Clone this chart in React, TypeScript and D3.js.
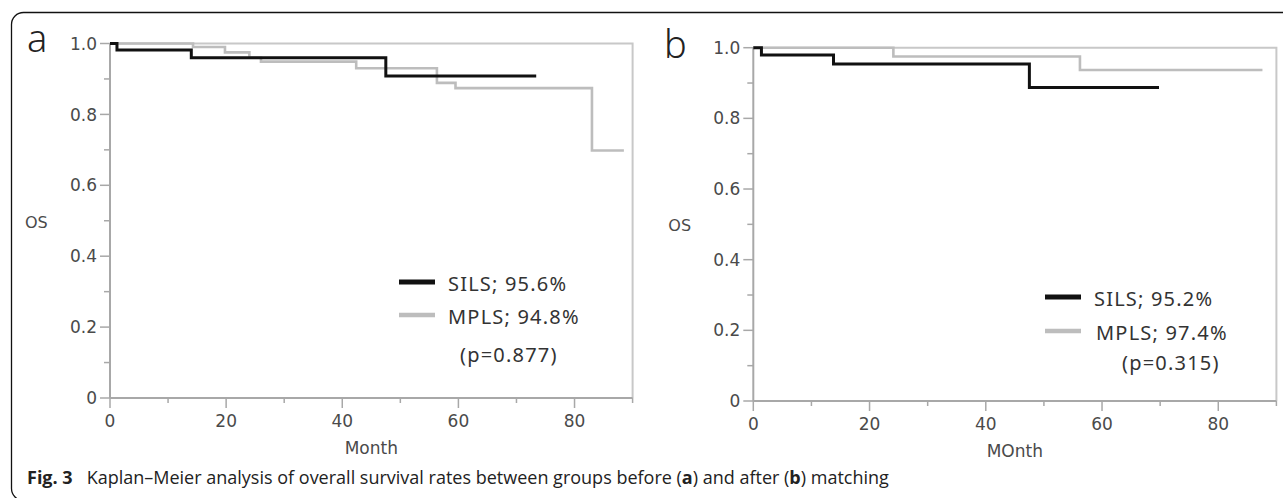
import React from 'react';
import * as d3 from 'd3';

// panel a (before matching)
const silsTimesA = [0, 1.2, 14, 47.5, 73.4];
const silsSurvA = [1, 0.982, 0.96, 0.908, 0.908];
const mplsTimesA = [0, 14.3, 19.8, 24, 26, 42.4, 56.3, 59.5, 83, 88.5];
const mplsSurvA = [1, 0.99, 0.975, 0.96, 0.949, 0.93, 0.889, 0.874, 0.698, 0.698];

// panel b (after matching)
const silsTimesB = [0, 1.4, 13.8, 47.5, 69.8];
const silsSurvB = [1, 0.979, 0.954, 0.887, 0.887];
const mplsTimesB = [0, 24.1, 56.2, 87.6];
const mplsSurvB = [1, 0.975, 0.937, 0.937];

const xMajor = [0, 20, 40, 60, 80];
const xMinor = [10, 30, 50, 70, 90];
const yMajor = [0, 0.2, 0.4, 0.6, 0.8, 1.0];
const yMinor = [0.1, 0.3, 0.5, 0.7, 0.9];
const yLabels = ['0', '0.2', '0.4', '0.6', '0.8', '1.0'];

const seriesNames = ['SILS', 'MPLS'];
const ratesA = ['95.6%', '94.8%'];
const ratesB = ['95.2%', '97.4%'];
const pA = '(p=0.877)';
const pB = '(p=0.315)';

const BLACK = '#111';
const GRAY = '#bdbdbd';
const AXIS = '#a8a8a8';
const TXT = '#4a4a4a';

const toPts = (t: number[], s: number[]) => t.map((v, i) => [v, s[i]] as [number, number]);

function Panel({ left, right, top, bottom, letter, letterX, letterY, sils, mpls, rates, pval, xTitle, leg }: any) {
  const x = d3.scaleLinear().domain([0, 90]).range([left, right]);
  const y = d3.scaleLinear().domain([0, 1]).range([bottom, top]);
  const line = d3.line<[number, number]>()
    .x(d => x(d[0]))
    .y(d => y(d[1]))
    .curve(d3.curveStepAfter);
  const font = '"DejaVu Sans", sans-serif';
  const legFont = '"Noto Sans", sans-serif';
  return (
    <g>
      <text x={letterX} y={letterY} fontFamily='"Noto Sans", sans-serif' fontWeight={300} fontSize={38} fill="#222">{letter}</text>
      {/* frame */}
      <path d={`M${left},${top}H${right}V${bottom}`} fill="none" stroke="#c8c8c8" strokeWidth={2} />
      {/* y axis */}
      <line x1={left} x2={left} y1={top} y2={bottom} stroke={AXIS} strokeWidth={2} />
      {yMajor.map((v, i) => (
        <g key={'ym' + i}>
          <line x1={left - 10} x2={left} y1={y(v)} y2={y(v)} stroke={AXIS} strokeWidth={1.5} />
          <text x={left - 13} y={y(v)} dy="0.36em" textAnchor="end" fontFamily={font} fontSize={17} fill={TXT}>{yLabels[i]}</text>
        </g>
      ))}
      {yMinor.map((v, i) => (
        <line key={'yn' + i} x1={left - 6} x2={left} y1={y(v)} y2={y(v)} stroke={AXIS} strokeWidth={1.5} />
      ))}
      {/* x axis */}
      <line x1={left} x2={right} y1={bottom} y2={bottom} stroke={AXIS} strokeWidth={2} />
      {xMajor.map((v, i) => (
        <g key={'xm' + i}>
          <line x1={x(v)} x2={x(v)} y1={bottom} y2={bottom + 10} stroke={AXIS} strokeWidth={1.5} />
          <text x={x(v)} y={bottom + 29} textAnchor="middle" fontFamily={font} fontSize={17} fill={TXT}>{v}</text>
        </g>
      ))}
      {xMinor.map((v, i) => (
        <line key={'xn' + i} x1={x(v)} x2={x(v)} y1={bottom} y2={bottom + 5} stroke={AXIS} strokeWidth={1.5} />
      ))}
      <text x={left - 85} y={y(0.5) + 7} fontFamily={font} fontSize={16} fill={TXT}>OS</text>
      <text x={(left + right) / 2} y={bottom + 56} textAnchor="middle" fontFamily={font} fontSize={17} fill={TXT}>{xTitle}</text>
      {/* curves */}
      <path d={line(mpls) || ''} fill="none" stroke={GRAY} strokeWidth={2.6} />
      <path d={line(sils) || ''} fill="none" stroke={BLACK} strokeWidth={3} />
      {/* legend */}
      <line x1={leg.x} x2={leg.x + 36} y1={leg.y} y2={leg.y} stroke={BLACK} strokeWidth={5} />
      <text x={leg.x + 49} y={leg.y + 9} fontFamily={legFont} fontSize={20} letterSpacing={1.2} fill="#333">{`${seriesNames[0]}; ${rates[0]}`}</text>
      <line x1={leg.x} x2={leg.x + 36} y1={leg.y + leg.gap} y2={leg.y + leg.gap} stroke={GRAY} strokeWidth={4.5} />
      <text x={leg.x + leg.t2} y={leg.y + leg.gap + 9} fontFamily={legFont} fontSize={20} letterSpacing={1.2} fill="#333">{`${seriesNames[1]}; ${rates[1]}`}</text>
      <text x={leg.x + leg.pX} y={leg.y + leg.pY} fontFamily={legFont} fontSize={20} letterSpacing={1.2} fill="#333">{pval}</text>
    </g>
  );
}

export default function App() {
  const W = 1283;
  const H = 498;
  return (
    <svg width={W} height={H} style={{ position: 'absolute', left: 0, top: 0, background: '#fff' }}>
      <rect x={11.5} y={12.5} width={1300} height={488} rx={12} fill="#fff" stroke="#111" strokeWidth={1.3} />
      <Panel left={110} right={632.6} top={43.5} bottom={398} letter="a" letterX={27} letterY={52}
        sils={toPts(silsTimesA, silsSurvA)} mpls={toPts(mplsTimesA, mplsSurvA)} rates={ratesA} pval={pA}
        xTitle="Month" leg={{ x: 399, y: 282, gap: 33, t2: 49, pX: 61, pY: 80 }} />
      <Panel left={753.3} right={1276.4} top={47.7} bottom={401} letter="b" letterX={664} letterY={58}
        sils={toPts(silsTimesB, silsSurvB)} mpls={toPts(mplsTimesB, mplsSurvB)} rates={ratesB} pval={pB}
        xTitle="MOnth" leg={{ x: 1045, y: 297, gap: 34, t2: 51, pX: 77, pY: 73 }} />
      <text x={27} y={484} fontFamily='"Open Sans", "Noto Sans", sans-serif' fontSize={18} fill="#222">
        <tspan fontWeight={700}>Fig. 3</tspan>
        <tspan dx={14}>Kaplan–Meier analysis of overall survival rates between groups before (</tspan>
        <tspan fontWeight={700}>a</tspan>
        <tspan>) and after (</tspan>
        <tspan fontWeight={700}>b</tspan>
        <tspan>) matching</tspan>
      </text>
    </svg>
  );
}
